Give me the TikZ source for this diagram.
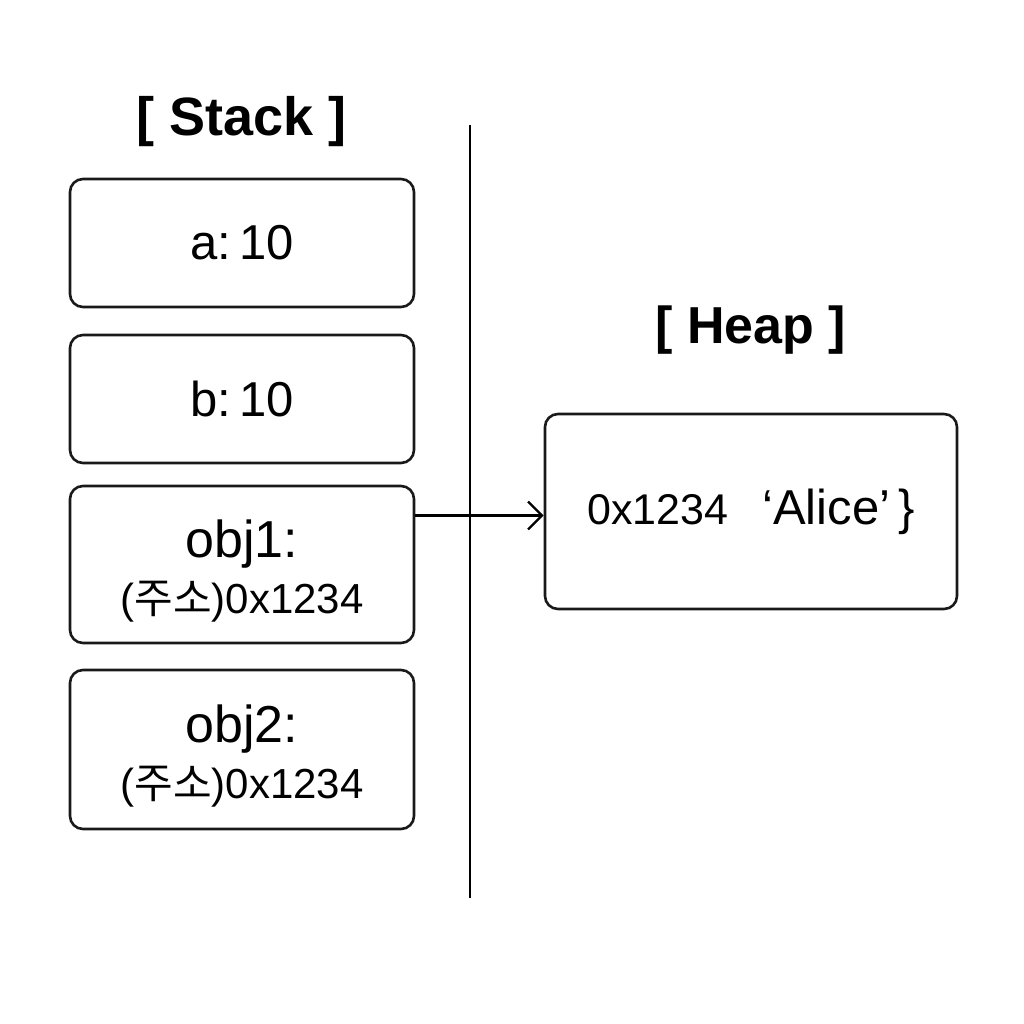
\documentclass[tikz,border=0pt]{standalone}
\usepackage{fontspec}
\setmainfont{Liberation Sans}
\newfontfamily\kr{Noto Sans CJK KR}
\usetikzlibrary{arrows.meta}
\begin{document}
\begin{tikzpicture}[x=1pt,y=-1pt,
  cell/.style={draw=black!90, line width=2.6pt, rounded corners=13pt, minimum width=344pt, inner sep=0pt, align=center},
  title/.style={font=\fontsize{54}{58}\selectfont\bfseries},
  big/.style={font=\fontsize{49}{52}\selectfont},
  two/.style={font=\fontsize{42}{56}\selectfont},
  link/.style={line width=2.4pt, -{Straight Barb[length=14pt, width=28pt, line width=2.4pt]}}]
\useasboundingbox (0,0) rectangle (1024,1024);
\node[title] (stt) at (242,122) {[ Stack ]};
\node[title, font=\fontsize{52}{56}\selectfont\bfseries] (hpt) at (751,330) {[ Heap ]};
\node[cell, minimum height=128pt, big] (a) at (242,243) {a:\,10};
\node[cell, minimum height=128pt, big] (b) at (242,399) {b:\,10};
\node[cell, minimum height=157pt, two] (obj1) at (242,564.5) {\rule{0pt}{50pt}{\fontsize{52}{56}\selectfont obj1:}\\({\kr 주소})0x1234};
\node[cell, minimum height=159pt, two] (obj2) at (242,749.5) {\rule{0pt}{50pt}{\fontsize{52}{56}\selectfont obj2:}\\({\kr 주소})0x1234};
\node[cell, minimum width=412pt, minimum height=195pt] (heap) at (751,511.5) {{\fontsize{43}{46}\selectfont 0x1234}\hspace{34pt}{\fontsize{49}{52}\selectfont ‘Alice'\,\}}};
\coordinate (top) at (470,125);
\coordinate (bot) at (470,898);
\draw[line width=2.6pt] (top) -- (bot);
\draw[link] ([yshift=-4pt]obj1.east |- heap.west) -- ([yshift=-4pt]heap.west);
\end{tikzpicture}
\end{document}
